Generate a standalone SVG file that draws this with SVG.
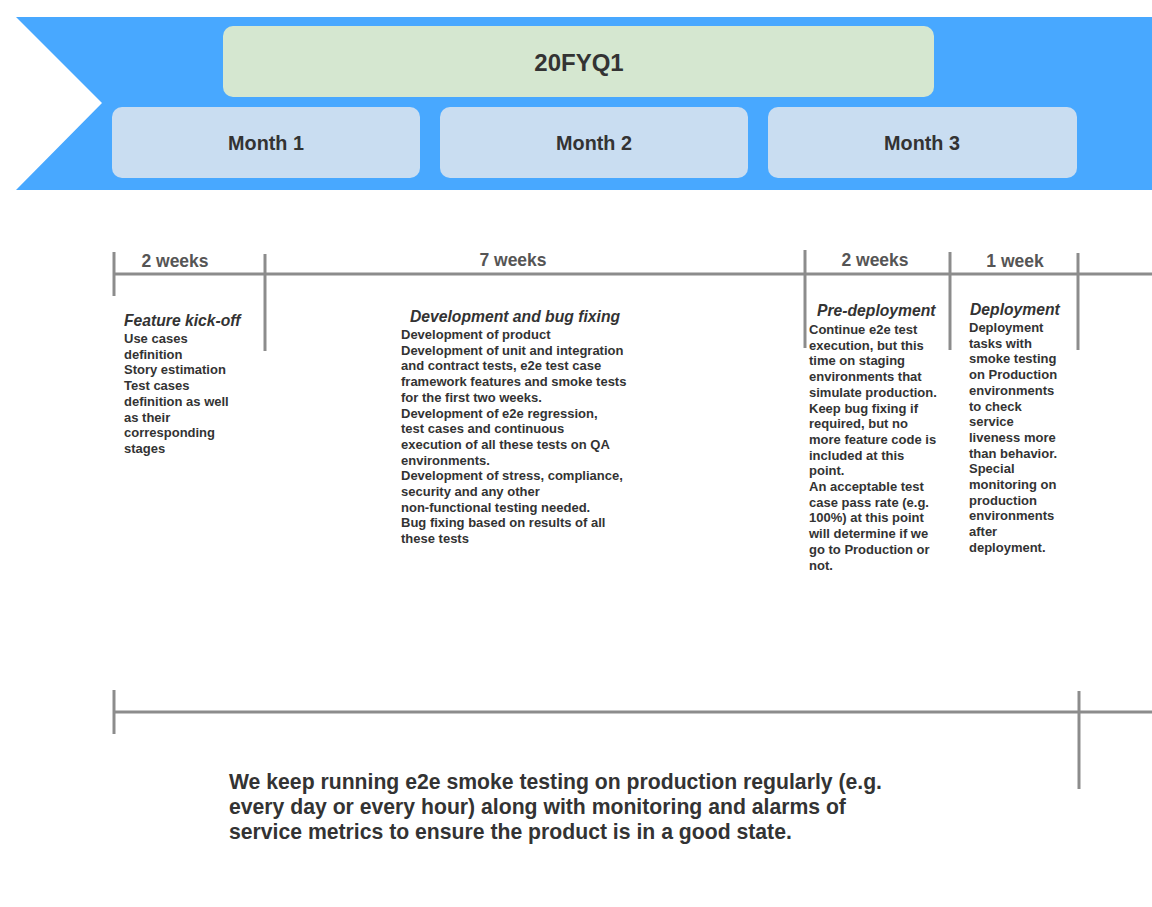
<svg xmlns="http://www.w3.org/2000/svg" width="1152" height="907" viewBox="0 0 1152 907">
<style>
.hdr{font-family:"Liberation Sans",Arial,sans-serif;font-weight:bold;fill:#333333;text-anchor:middle}
.wk{font-family:"Liberation Sans",Arial,sans-serif;font-weight:bold;font-size:17.5px;fill:#555555;text-anchor:middle}
.ttl{font-family:"Liberation Sans",Arial,sans-serif;font-weight:bold;font-style:italic;font-size:15.7px;fill:#333333}
.body{font-family:"Liberation Sans",Arial,sans-serif;font-weight:bold;font-size:13px;fill:#333333}
.foot{font-family:"Liberation Sans",Arial,sans-serif;font-weight:bold;font-size:21.2px;fill:#333333}
.ln{stroke:#8c8c8c;stroke-width:3;fill:none}
.month{fill:#c9ddf1}
</style>
<rect width="1152" height="907" fill="#ffffff"/>
<g id="banner">
<polygon points="16,17 1152,17 1152,190 16,190 102,103" fill="#48a8ff"/>
</g>
<g id="quarter">
<rect x="223" y="26" width="711" height="71" rx="10" fill="#d5e7d0"/>
<text class="hdr" x="579" y="71" font-size="24">20FYQ1</text>
</g>
<g id="month1">
<rect class="month" x="112" y="107" width="308" height="71" rx="10"/>
<text class="hdr" x="266" y="150" font-size="19.8">Month 1</text>
</g>
<g id="month2">
<rect class="month" x="440" y="107" width="308" height="71" rx="10"/>
<text class="hdr" x="594" y="150" font-size="19.8">Month 2</text>
</g>
<g id="month3">
<rect class="month" x="768" y="107" width="309" height="71" rx="10"/>
<text class="hdr" x="922" y="150" font-size="19.8">Month 3</text>
</g>
<g id="connectors">
<line class="ln" x1="113" y1="274" x2="1152" y2="274"/>
<line class="ln" x1="114" y1="252" x2="114" y2="296"/>
<line class="ln" x1="265" y1="254" x2="265" y2="351"/>
<line class="ln" x1="805" y1="250" x2="805" y2="348"/>
<line class="ln" x1="950" y1="252" x2="950" y2="350"/>
<line class="ln" x1="1078" y1="253" x2="1078" y2="350"/>
<line class="ln" x1="113" y1="712" x2="1152" y2="712"/>
<line class="ln" x1="114" y1="690" x2="114" y2="734"/>
<line class="ln" x1="1079" y1="691" x2="1079" y2="789"/>
</g>
<g id="weeks">
<text class="wk" x="175" y="267">2 weeks</text>
<text class="wk" x="513" y="266">7 weeks</text>
<text class="wk" x="875" y="266">2 weeks</text>
<text class="wk" x="1015" y="267">1 week</text>
</g>
<g id="kickoff">
<text class="ttl" x="124" y="326">Feature kick-off</text>
<text class="body" x="124" y="343">Use cases</text>
<text class="body" x="124" y="358.7">definition</text>
<text class="body" x="124" y="374.4">Story estimation</text>
<text class="body" x="124" y="390.1">Test cases</text>
<text class="body" x="124" y="405.8">definition as well</text>
<text class="body" x="124" y="421.5">as their</text>
<text class="body" x="124" y="437.2">corresponding</text>
<text class="body" x="124" y="452.9">stages</text>
</g>
<g id="development">
<text class="ttl" x="410" y="322">Development and bug fixing</text>
<text class="body" x="401" y="339">Development of product</text>
<text class="body" x="401" y="354.7">Development of unit and integration</text>
<text class="body" x="401" y="370.4">and contract tests, e2e test case</text>
<text class="body" x="401" y="386.1">framework features and smoke tests</text>
<text class="body" x="401" y="401.8">for the first two weeks.</text>
<text class="body" x="401" y="417.5">Development of e2e regression,</text>
<text class="body" x="401" y="433.2">test cases and continuous</text>
<text class="body" x="401" y="448.9">execution of all these tests on QA</text>
<text class="body" x="401" y="464.6">environments.</text>
<text class="body" x="401" y="480.3">Development of stress, compliance,</text>
<text class="body" x="401" y="496">security and any other</text>
<text class="body" x="401" y="511.7">non-functional testing needed.</text>
<text class="body" x="401" y="527.4">Bug fixing based on results of all</text>
<text class="body" x="401" y="543.1">these tests</text>
</g>
<g id="predeployment">
<text class="ttl" x="817" y="316">Pre-deployment</text>
<text class="body" x="809" y="334">Continue e2e test</text>
<text class="body" x="809" y="349.7">execution, but this</text>
<text class="body" x="809" y="365.4">time on staging</text>
<text class="body" x="809" y="381.1">environments that</text>
<text class="body" x="809" y="396.8">simulate production.</text>
<text class="body" x="809" y="412.5">Keep bug fixing if</text>
<text class="body" x="809" y="428.2">required, but no</text>
<text class="body" x="809" y="443.9">more feature code is</text>
<text class="body" x="809" y="459.6">included at this</text>
<text class="body" x="809" y="475.3">point.</text>
<text class="body" x="809" y="491">An acceptable test</text>
<text class="body" x="809" y="506.7">case pass rate (e.g.</text>
<text class="body" x="809" y="522.4">100%) at this point</text>
<text class="body" x="809" y="538.1">will determine if we</text>
<text class="body" x="809" y="553.8">go to Production or</text>
<text class="body" x="809" y="569.5">not.</text>
</g>
<g id="deployment">
<text class="ttl" x="970" y="315">Deployment</text>
<text class="body" x="969" y="332">Deployment</text>
<text class="body" x="969" y="347.7">tasks with</text>
<text class="body" x="969" y="363.4">smoke testing</text>
<text class="body" x="969" y="379.1">on Production</text>
<text class="body" x="969" y="394.8">environments</text>
<text class="body" x="969" y="410.5">to check</text>
<text class="body" x="969" y="426.2">service</text>
<text class="body" x="969" y="441.9">liveness more</text>
<text class="body" x="969" y="457.6">than behavior.</text>
<text class="body" x="969" y="473.3">Special</text>
<text class="body" x="969" y="489">monitoring on</text>
<text class="body" x="969" y="504.7">production</text>
<text class="body" x="969" y="520.4">environments</text>
<text class="body" x="969" y="536.1">after</text>
<text class="body" x="969" y="551.8">deployment.</text>
</g>
<g id="footer">
<text class="foot" x="229" y="789">We keep running e2e smoke testing on production regularly (e.g.</text>
<text class="foot" x="229" y="814">every day or every hour) along with monitoring and alarms of</text>
<text class="foot" x="229" y="839">service metrics to ensure the product is in a good state.</text>
</g>
</svg>
